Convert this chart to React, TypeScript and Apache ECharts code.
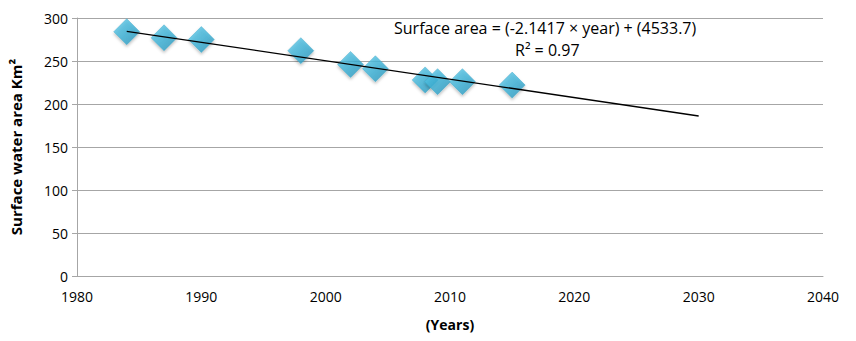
import React, { useEffect, useRef } from "react";
import * as echarts from "echarts";

const years = [1984, 1987, 1990, 1998, 2002, 2004, 2008, 2009, 2011, 2015];
const areas = [284, 277, 275, 262, 246, 241, 228, 226, 226, 222];
const slope = -2.1417;
const intercept = 4533.7;
const trendYears = [1984, 2030];
const xTicks = [1980, 1990, 2000, 2010, 2020, 2030, 2040];
const yTicks = [0, 50, 100, 150, 200, 250, 300];
const equationText = "Surface area = (-2.1417 × year) + (4533.7)";
const r2Text = "R² = 0.97";

export default function App() {
  const ref = useRef<HTMLDivElement>(null);
  useEffect(() => {
    if (!ref.current) return;
    const chart = echarts.init(ref.current, null, { renderer: "svg" });
    const font = "'Open Sans', sans-serif";
    chart.setOption({
      animation: false,
      backgroundColor: "#ffffff",
      grid: { left: 77, right: 33, top: 18, bottom: 65 },
      xAxis: {
        type: "value",
        min: xTicks[0],
        max: xTicks[xTicks.length - 1],
        interval: 10,
        name: "(Years)",
        nameLocation: "middle",
        nameGap: 41,
        nameTextStyle: { fontFamily: font, fontWeight: "bold", fontSize: 14, color: "#000" },
        axisLine: { show: true, lineStyle: { color: "#a6a6a6", width: 1 } },
        axisTick: { show: false },
        splitLine: { show: false },
        axisLabel: {
          fontFamily: font,
          fontSize: 14,
          color: "#000",
          margin: 13,
          formatter: (v: number) => String(v),
        },
      },
      yAxis: {
        type: "value",
        min: yTicks[0],
        max: yTicks[yTicks.length - 1],
        interval: 50,
        name: "Surface water area Km²",
        nameLocation: "middle",
        nameGap: 54,
        nameTextStyle: { fontFamily: font, fontWeight: "bold", fontSize: 15, color: "#000" },
        axisLine: { show: true, lineStyle: { color: "#a6a6a6", width: 1 } },
        axisTick: { show: true, inside: false, length: 5, lineStyle: { color: "#a6a6a6" } },
        splitLine: { show: true, lineStyle: { color: "#a6a6a6", width: 1 } },
        axisLabel: { fontFamily: font, fontSize: 14, color: "#000", margin: 9 },
      },
      series: [
        {
          type: "scatter",
          data: years.map((y, i) => [y, areas[i]]),
          symbol: "diamond",
          symbolSize: [26, 26],
          itemStyle: {
            color: new echarts.graphic.LinearGradient(0, 0, 1, 1, [
              { offset: 0, color: "#66cdea" },
              { offset: 0.5, color: "#3bb1d6" },
              { offset: 1, color: "#2792b8" },
            ]),
            borderColor: "#32a2c6",
            borderWidth: 0.5,
            shadowBlur: 3,
            shadowColor: "rgba(0,0,0,0.3)",
            shadowOffsetY: 2,
          },
          z: 2,
        },
        {
          type: "line",
          data: trendYears.map((y) => [y, slope * y + intercept]),
          symbol: "none",
          lineStyle: { color: "#000", width: 1.3 },
          z: 3,
        },
      ],
      graphic: [
        {
          type: "text",
          left: 394,
          top: 20,
          style: { text: equationText, fontFamily: font, fontSize: 16, fill: "#000" },
        },
        {
          type: "text",
          left: 515,
          top: 42,
          style: { text: r2Text, fontFamily: font, fontSize: 16, fill: "#000" },
        },
      ],
    });
    return () => chart.dispose();
  }, []);
  return (
    <div
      ref={ref}
      style={{ position: "fixed", left: 0, top: 0, width: 856, height: 341 }}
    />
  );
}
